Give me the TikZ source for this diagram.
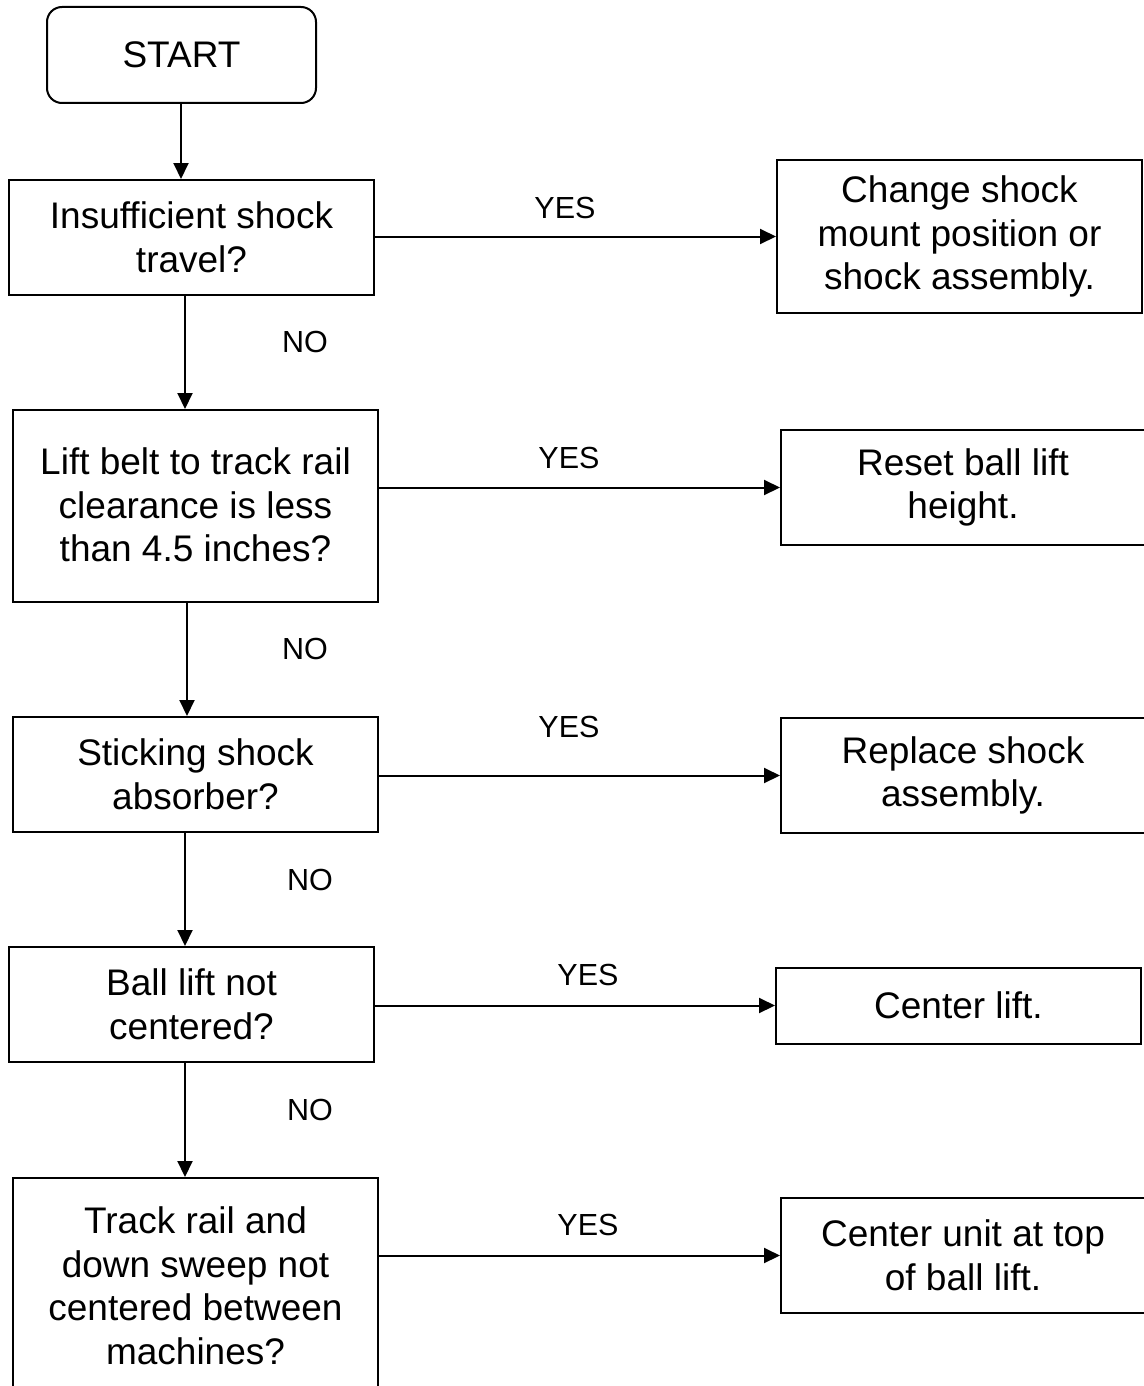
\documentclass[tikz,border=0pt]{standalone}
\usepackage{fontspec}
\setmainfont{Liberation Sans}
\usetikzlibrary{arrows.meta}
\begin{document}
\begin{tikzpicture}[x=1pt,y=-1pt,
  box/.style={draw=black,line width=2,align=center,inner sep=0,
    font=\fontsize{37}{43.5}\selectfont},
  startbox/.style={box,rounded corners=15},
  lbl/.style={font=\fontsize{30.5}{34}\selectfont,inner sep=0},
  arr/.style={line width=2,-{Triangle[length=16,width=15]}}]
\useasboundingbox (0,0) rectangle (1143,1386);
% nodes
\node[startbox,minimum width=269,minimum height=96] (start) at (181.5,55) {START};
\node[box,minimum width=365,minimum height=115] (q1) at (191.5,237.5) {Insufficient shock\\travel?};
\node[box,minimum width=365,minimum height=153] (a1) at (959.5,236.5) {Change shock\\mount position or\\shock assembly.};
\node[box,minimum width=365,minimum height=192,text depth=2] (q2) at (195.5,506) {Lift belt to track rail\\clearance is less\\than 4.5 inches?};
\node[box,minimum width=364,minimum height=115] (a2) at (963,487.5) {Reset ball lift\\height.};
\node[box,minimum width=365,minimum height=115] (q3) at (195.5,774.5) {Sticking shock\\absorber?};
\node[box,minimum width=364,minimum height=115] (a3) at (963,775.5) {Replace shock\\assembly.};
\node[box,minimum width=365,minimum height=115] (q4) at (191.5,1004.5) {Ball lift not\\centered?};
\node[box,minimum width=365,minimum height=76] (a4) at (958.5,1005.5) {Center lift.};
\node[box,minimum width=365,minimum height=216] (q5) at (195.5,1286) {Track rail and\\down sweep not\\centered between\\machines?};
\node[box,minimum width=364,minimum height=115] (a5) at (963,1255.5) {Center unit at top\\of ball lift.};
% vertical guide coordinates
\coordinate (v0) at (181,0);
\coordinate (v1) at (185,0);
\coordinate (v2) at (187,0);
% vertical arrows
\draw[arr] (start.south -| v0) -- (q1.north -| v0);
\draw[arr] (q1.south -| v1) -- (q2.north -| v1);
\draw[arr] (q2.south -| v2) -- (q3.north -| v2);
\draw[arr] (q3.south -| v1) -- (q4.north -| v1);
\draw[arr] (q4.south -| v1) -- (q5.north -| v1);
% horizontal arrows
\draw[arr] (a1.west -| q1.east) -- (a1.west);
\draw[arr] (a2.west -| q2.east) -- (a2.west);
\draw[arr] (a3.west -| q3.east) -- (a3.west);
\draw[arr] (a4.west -| q4.east) -- (a4.west);
\draw[arr] (a5.west -| q5.east) -- (a5.west);
% labels
\node[lbl] (y1) at (565,208) {YES};
\node[lbl] (y2) at (569,458) {YES};
\node[lbl] (y3) at (569,727) {YES};
\node[lbl] (y4) at (588,975) {YES};
\node[lbl] (y5) at (588,1225) {YES};
\node[lbl] (n1) at (305,342) {NO};
\node[lbl] (n2) at (305,649) {NO};
\node[lbl] (n3) at (310,880) {NO};
\node[lbl] (n4) at (310,1110) {NO};
\end{tikzpicture}
\end{document}
